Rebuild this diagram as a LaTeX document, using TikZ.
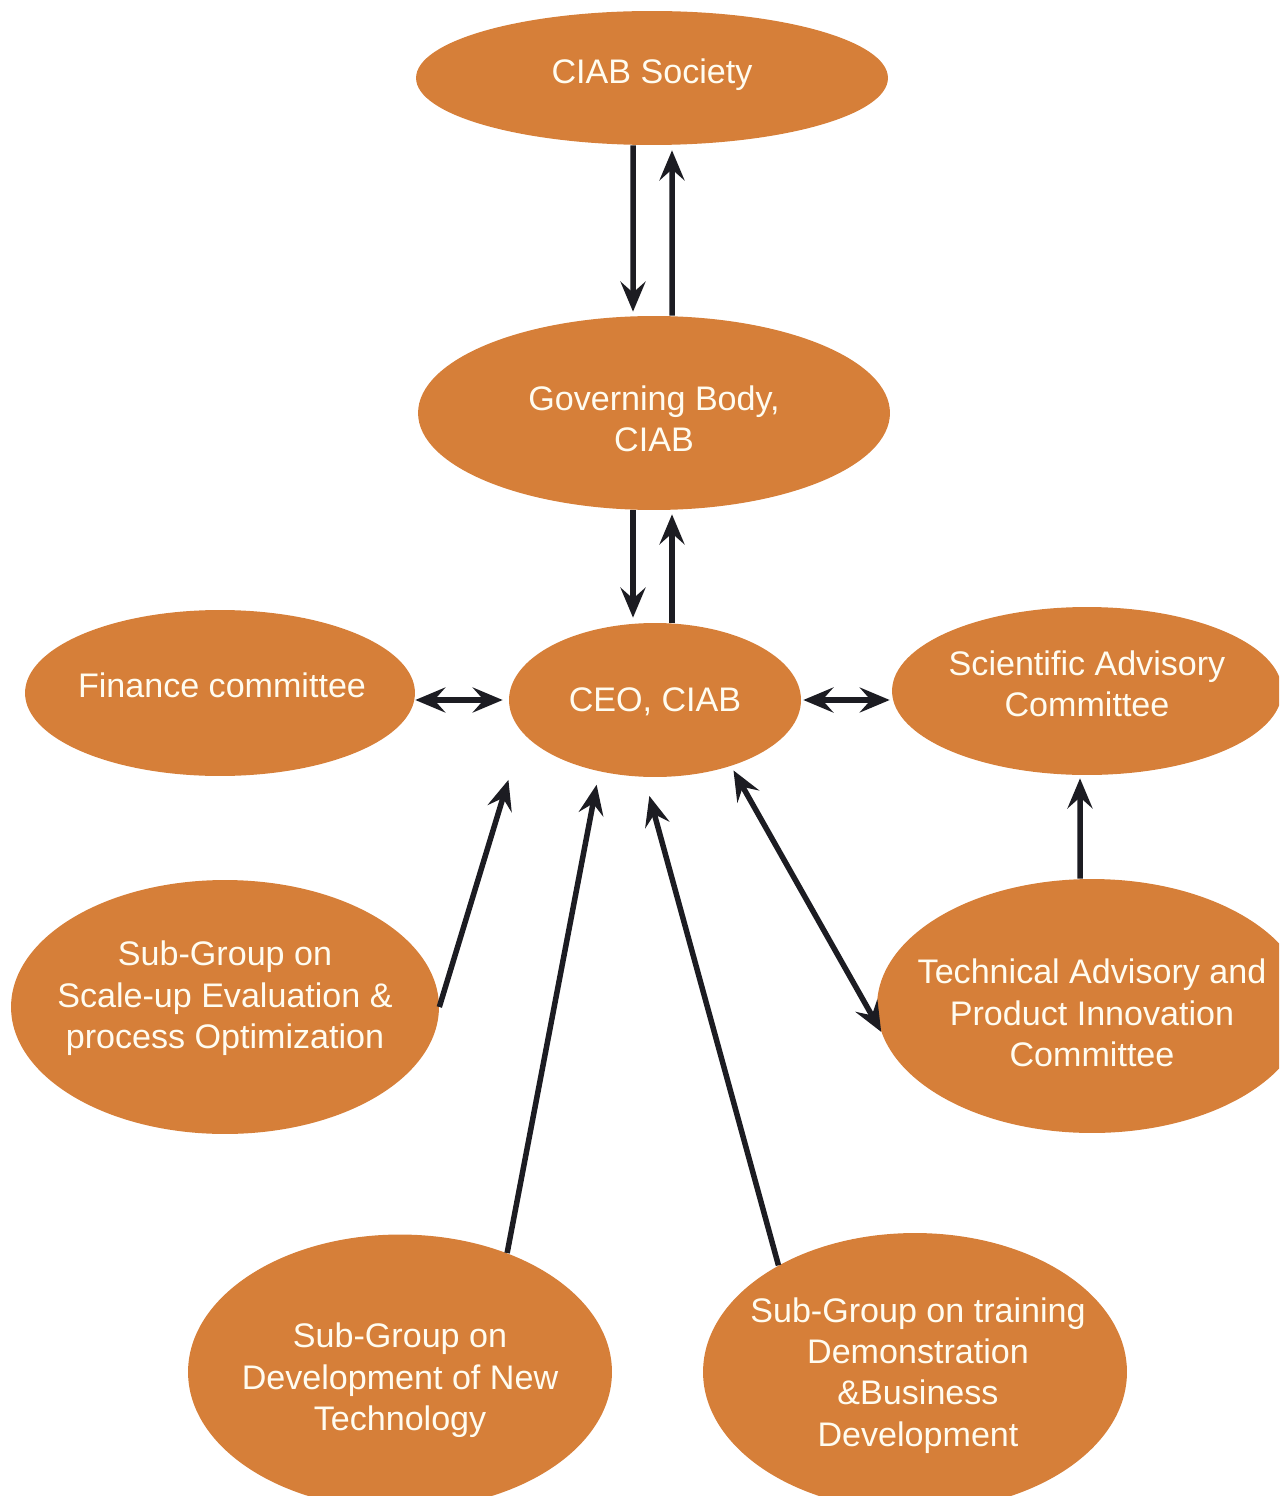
\documentclass[tikz,border=0pt]{standalone}
\usepackage{fontspec}
\setmainfont{Liberation Sans}
\usetikzlibrary{shapes.geometric,arrows.meta}
\definecolor{orgfill}{RGB}{214,127,57}
\definecolor{orgtext}{RGB}{255,252,240}
\definecolor{arrowcol}{RGB}{28,28,34}
\newcommand{\zwtext}[1]{\begin{tabular}{@{}c@{}}#1\end{tabular}}
\tikzset{
  orgbox/.style={ellipse, fill=orgfill, inner sep=0pt},
  orgtxt/.style={inner sep=0pt, text=orgtext, font=\fontsize{19.4}{23.5}\selectfont},
  conn/.style={draw=arrowcol, line width=0.11cm,
    -{Stealth[length=0.6cm,width=0.5cm,inset=0.22cm]}},
  conn2/.style={draw=arrowcol, line width=0.11cm,
    {Stealth[length=0.6cm,width=0.5cm,inset=0.22cm]}-{Stealth[length=0.6cm,width=0.5cm,inset=0.22cm]}}
}
\begin{document}
\begin{tikzpicture}[x=0.02cm,y=-0.02cm]
\useasboundingbox (0,0) rectangle (1279,1496);
\clip (0,0) rectangle (1279,1496);
\node[orgbox, minimum width=9.44cm, minimum height=2.68cm] (soc) at (652,78) {};
\node[orgbox, minimum width=9.44cm, minimum height=3.88cm] (gov) at (654,413) {};
\node[orgbox, minimum width=5.84cm, minimum height=3.08cm] (ceo) at (655,700) {};
\node[orgbox, minimum width=7.8cm, minimum height=3.32cm] (fin) at (220,693) {};
\node[orgbox, minimum width=7.8cm, minimum height=3.36cm] (sci) at (1087,691) {};
\node[orgbox, minimum width=8.6cm, minimum height=5.08cm] (tech) at (1092,1006) {};
\node[orgbox, minimum width=8.56cm, minimum height=5.08cm] (scale) at (225,1007) {};
\node[orgbox, minimum width=8.48cm, minimum height=5.5cm] (dev) at (400,1372) {};
\node[orgbox, minimum width=8.48cm, minimum height=5.56cm] (train) at (915,1372) {};

\node[orgtxt, yshift=0.06cm] (soct) at (soc) {\zwtext{CIAB Society}};
\node[orgtxt, yshift=-0.2cm] (govt) at (gov) {\zwtext{Governing Body,\\CIAB}};
\node[orgtxt, yshift=-0.06cm] (ceot) at (ceo) {\zwtext{CEO, CIAB}};
\node[orgtxt, yshift=0.08cm, xshift=0.04cm] (fint) at (fin) {\zwtext{Finance committee}};
\node[orgtxt, yshift=0.06cm] (scit) at (sci) {\zwtext{Scientific Advisory\\Committee}};
\node[orgtxt, yshift=-0.22cm] (techt) at (tech) {\zwtext{Technical Advisory and\\Product Innovation\\Committee}};
\node[orgtxt, yshift=0.16cm] (scalet) at (scale) {\zwtext{Sub-Group on\\Scale-up Evaluation \&\\process Optimization}};
\node[orgtxt, yshift=-0.18cm] (devt) at (dev) {\zwtext{Sub-Group on\\Development of New\\Technology}};
\node[orgtxt, yshift=-0.08cm, xshift=0.06cm] (traint) at (train) {\zwtext{Sub-Group on training\\Demonstration\\\&Business\\Development}};

% vertical pairs
\draw[conn, shorten >=0.08cm] ([xshift=-0.38cm]soc.south) -- ([xshift=-0.42cm]gov.north);
\draw[conn, shorten >=0.1cm] ([xshift=0.36cm]gov.north) -- ([xshift=0.4cm]soc.south);
\draw[conn, shorten >=0.1cm] ([xshift=-0.42cm]gov.south) -- ([xshift=-0.44cm]ceo.north);
\draw[conn, shorten >=0.08cm] ([xshift=0.34cm]ceo.north) -- ([xshift=0.36cm]gov.south);
% horizontal double arrows
\draw[conn2, shorten >=0.12cm] (fin.east |- ceo.west) -- (ceo.west);
\draw[conn2, shorten <=0.04cm, shorten >=0.04cm] (ceo.east) -- (sci.west |- ceo.east);
% diagonal arrows to CEO
\draw[conn, shorten >=0.98cm] (scale.east) -- (ceo.194);
\draw[conn, shorten >=0.27cm] (dev.48) -- (ceo.232);
\draw[conn, shorten >=0.39cm] (train.142) -- (ceo.262);
\draw[conn2, shorten >=0.1cm] (tech.187) -- (ceo.319);
% technical to scientific
\draw[conn, shorten >=0.06cm] ([xshift=-0.24cm]tech.north) -- ([xshift=-0.14cm]sci.south);
\end{tikzpicture}
\end{document}
